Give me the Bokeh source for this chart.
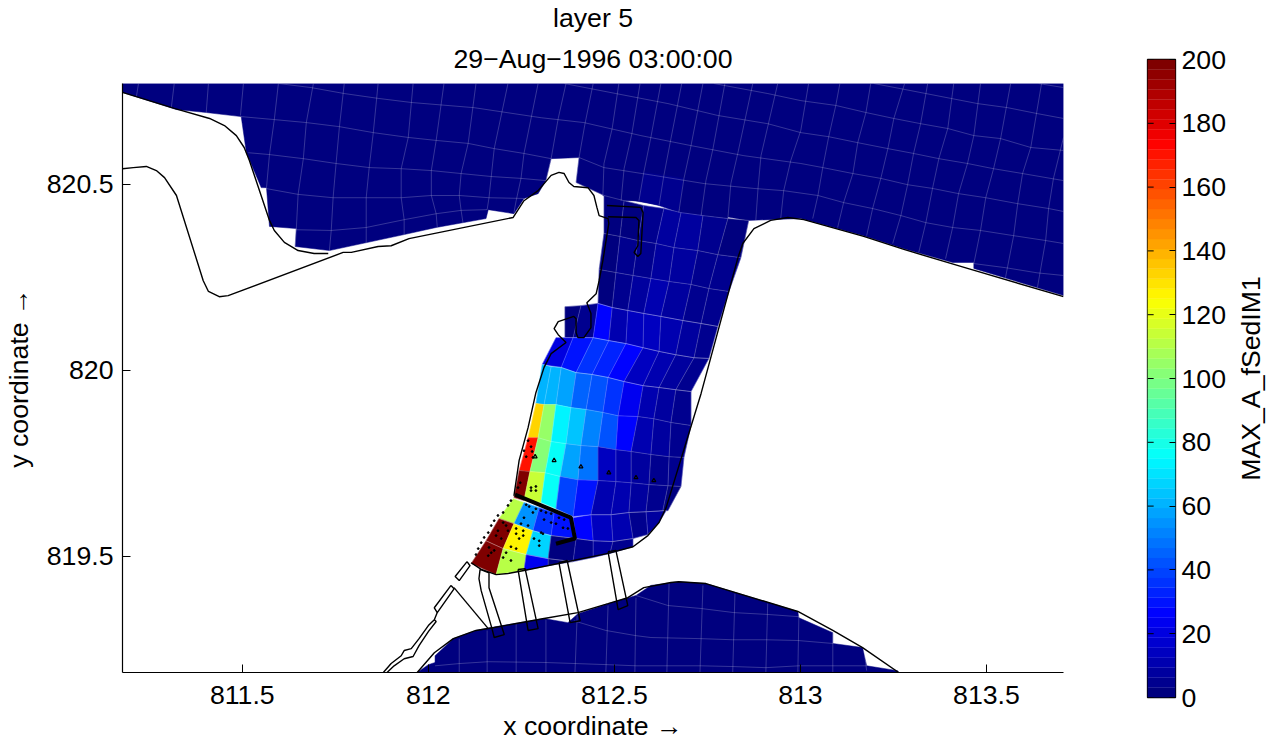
from bokeh.plotting import figure
from bokeh.layouts import row
from bokeh.models import (ColumnDataSource, FixedTicker, LinearColorMapper, Title)
from bokeh.embed import file_html
from bokeh.resources import INLINE
import numpy as np

TITLE = ["layer 5", "29\u2212Aug\u22121996 03:00:00"]
X_LABEL = "x coordinate \u2192"
Y_LABEL = "y coordinate \u2192"
CB_LABEL = "MAX_A_fSedIM1"
X_TICKS = [811.5, 812, 812.5, 813, 813.5]
X_TICK_LABELS = ["811.5", "812", "812.5", "813", "813.5"]
Y_TICKS = [819.5, 820, 820.5]
Y_TICK_LABELS = ["819.5", "820", "820.5"]
CB_TICKS = [0, 20, 40, 60, 80, 100, 120, 140, 160, 180, 200]
X_LIM = (811.178, 813.707)
Y_LIM = (819.188, 820.771)

# wet areas at value ~0
TOP_X = [811.178, 813.707, 813.707, 813.466, 813.466, 813.409, 813.278, 813.170, 813.001, 812.859, 812.472, 812.397, 812.405, 812.330, 812.316, 812.295, 812.257, 812.230, 812.161, 812.155, 812.021, 811.935, 811.734, 811.642, 811.645, 811.573, 811.565, 811.551, 811.511, 811.497, 811.403, 811.323, 811.178]
TOP_Y = [820.771, 820.771, 820.201, 820.274, 820.290, 820.290, 820.327, 820.362, 820.408, 820.403, 820.470, 820.505, 820.572, 820.569, 820.510, 820.475, 820.462, 820.421, 820.432, 820.408, 820.384, 820.365, 820.322, 820.333, 820.381, 820.387, 820.491, 820.491, 820.585, 820.682, 820.693, 820.701, 820.747]
LOW_X = [811.970, 812.000, 812.018, 812.018, 812.067, 812.128, 812.169, 812.311, 812.375, 812.402, 812.483, 812.558, 812.598, 812.673, 812.746, 812.993, 812.996, 813.087, 813.087, 813.167, 813.178, 813.261, 813.264]
LOW_Y = [819.188, 819.209, 819.215, 819.233, 819.279, 819.301, 819.309, 819.333, 819.322, 819.346, 819.373, 819.395, 819.422, 819.432, 819.427, 819.352, 819.335, 819.295, 819.266, 819.255, 819.206, 819.193, 819.188]

# block T: slightly raised cells in the basin
T_X = [[812.494, 812.547, 812.598, 812.652, 812.706, 812.765, 812.832],
       [812.472, 812.526, 812.579, 812.633, 812.687, 812.746, 812.813],
       [812.469, 812.518, 812.566, 812.620, 812.673, 812.733, 812.805]]
T_Y = [[820.650, 820.636, 820.626, 820.623, 820.604, 820.596, 820.585],
       [820.556, 820.542, 820.532, 820.524, 820.516, 820.510, 820.502],
       [820.470, 820.456, 820.456, 820.443, 820.424, 820.416, 820.408]]
T_V = [[1, 2, 3, 2, 1, 1], [2, 3, 4, 4, 2, 1]]

# block A: upper channel
A_X = [[812.472, 812.526, 812.579, 812.633, 812.679, 812.738, 812.805, 812.861],
       [812.472, 812.515, 812.563, 812.612, 812.660, 812.724, 812.778, 812.840],
       [812.459, 812.504, 812.550, 812.598, 812.647, 812.706, 812.754, 812.808],
       [812.456, 812.494, 812.536, 812.579, 812.625, 812.684, 812.733, 812.778]]
A_Y = [[820.470, 820.456, 820.443, 820.435, 820.424, 820.416, 820.408, 820.403],
       [820.368, 820.360, 820.349, 820.341, 820.330, 820.322, 820.311, 820.303],
       [820.271, 820.263, 820.255, 820.247, 820.239, 820.231, 820.220, 820.212],
       [820.180, 820.169, 820.161, 820.153, 820.145, 820.134, 820.126, 820.118]]
A_V = [[2, 3, 5, 7, 7, 5, 3], [3, 4, 6, 8, 8, 6, 4], [2, 6, 9, 10, 8, 6, 5]]

# block B: middle channel
R5_X = [812.389, 812.443, 812.485, 812.531, 812.577, 812.620, 812.665, 812.714, 812.754]
R5_Y = [820.088, 820.088, 820.080, 820.072, 820.061, 820.051, 820.042, 820.034, 820.032]
B1_X = [[812.367, 812.410, 812.456, 812.494, 812.536, 812.579, 812.625, 812.684, 812.733, 812.778],
        [812.367] + R5_X]
B1_Y = [[820.171, 820.174, 820.180, 820.169, 820.161, 820.153, 820.145, 820.134, 820.126, 820.118],
        [820.088] + R5_Y]
B1_V = [[1, 4, 25, 12, 14, 13, 10, 8, 6]]
B2_X = [[812.343] + R5_X,
        [812.306, 812.357, 812.397, 812.440, 812.483, 812.526, 812.577, 812.620, 812.665, 812.706]]
B2_Y = [[820.088] + R5_Y,
        [820.016, 820.008, 819.994, 819.989, 819.981, 819.970, 819.959, 819.954, 819.948, 819.943]]
B2_V = [[20, 30, 36, 32, 25, 14, 10, 8, 5]]

# block C: lower channel
C_X = [[812.306, 812.330, 812.357, 812.397, 812.440, 812.483, 812.526, 812.577, 812.620, 812.665, 812.706],
       [812.289, 812.311, 812.343, 812.383, 812.424, 812.469, 812.510, 812.563, 812.606, 812.652, 812.706],
       [812.268, 812.295, 812.330, 812.370, 812.410, 812.456, 812.504, 812.545, 812.598, 812.647, 812.687],
       [812.244, 812.273, 812.314, 812.354, 812.402, 812.456, 812.504, 812.545, 812.593, 812.644, 812.679],
       [812.230, 812.257, 812.303, 812.343, 812.389, 812.437, 812.491, 812.539, 812.585, 812.630, 812.644]]
C_Y = [[820.016, 820.010, 820.008, 819.994, 819.989, 819.981, 819.970, 819.959, 819.954, 819.948, 819.943],
       [819.911, 819.908, 819.908, 819.900, 819.895, 819.887, 819.878, 819.876, 819.870, 819.860, 819.852],
       [819.819, 819.819, 819.809, 819.803, 819.798, 819.795, 819.787, 819.782, 819.774, 819.768, 819.766],
       [819.731, 819.728, 819.725, 819.715, 819.706, 819.704, 819.701, 819.698, 819.693, 819.690, 819.688],
       [819.658, 819.650, 819.645, 819.628, 819.607, 819.612, 819.612, 819.618, 819.620, 819.623, 819.623]]
C_V = [[60, 60, 58, 46, 43, 37, 22, 11, 8, 5],
       [132, 105, 73, 64, 50, 42, 26, 10, 7, 4],
       [170, 100, 75, 58, 48, 15, 10, 8, 5, 4],
       [198, 114, 76, 40, 30, 12, 10, 8, 5, 3]]

# block D: fan of cells at the harbour mouth
L0_X = [812.228, 812.257, 812.298, 812.338, 812.389, 812.437, 812.491, 812.539, 812.585, 812.639]
L0_Y = [819.655, 819.645, 819.631, 819.618, 819.604, 819.612, 819.612, 819.618, 819.620, 819.623]
L1_X = [812.190, 812.230, 812.281, 812.330, 812.397, 812.443, 812.496, 812.550, 812.590, 812.620]
L1_Y = [819.602, 819.588, 819.569, 819.556, 819.548, 819.542, 819.540, 819.548, 819.559, 819.591]
L2_X = [812.155, 812.201, 812.263, 812.322, 812.389, 812.443, 812.488, 812.550]
L2_Y = [819.542, 819.521, 819.505, 819.494, 819.486, 819.497, 819.508, 819.526]
L3_X = [812.115, 812.182, 812.257, 812.322, 812.389]
L3_Y = [819.481, 819.451, 819.462, 819.475, 819.486]
D1_V = [[112, 55, 35, 30, 25, 13, 10, 6, 8]]
D2_V = [[198, 125, 68, 3, 6, 8, 5]]
D3_V = [[198, 110, 22, 3]]

# grid lines of the basins
GRID_LINES = [
    ([813.640, 813.707], [820.771, 820.760]),
    ([813.197, 813.270, 813.337, 813.404, 813.476, 813.557, 813.637, 813.707], [820.771, 820.757, 820.744, 820.731, 820.717, 820.706, 820.690, 820.677]),
    ([812.767, 812.912, 813.001, 813.095, 813.176, 813.251, 813.323, 813.396, 813.466, 813.538, 813.619, 813.707], [820.771, 820.744, 820.725, 820.712, 820.693, 820.677, 820.663, 820.650, 820.631, 820.623, 820.599, 820.591]),
    ([812.365, 812.504, 812.644, 812.778, 812.912, 813.001, 813.076, 813.154, 813.235, 813.304, 813.372, 813.449, 813.519, 813.597, 813.707], [820.771, 820.744, 820.717, 820.685, 820.663, 820.639, 820.628, 820.612, 820.596, 820.583, 820.569, 820.556, 820.542, 820.529, 820.510]),
    ([811.597, 811.685, 811.774, 811.865, 811.954, 812.123, 812.303, 812.418, 812.571, 812.706, 812.848, 813.001, 813.060, 813.141, 813.216, 813.288, 813.355, 813.425, 813.498, 813.584, 813.667, 813.707], [820.771, 820.760, 820.744, 820.731, 820.720, 820.706, 820.679, 820.666, 820.631, 820.604, 820.577, 820.556, 820.545, 820.529, 820.516, 820.499, 820.489, 820.475, 820.464, 820.448, 820.435, 820.427]),
    ([811.497, 811.586, 811.672, 811.761, 811.852, 811.946, 812.021, 812.107, 812.177, 812.257, 812.330], [820.682, 820.674, 820.666, 820.655, 820.639, 820.626, 820.618, 820.610, 820.596, 820.583, 820.569]),
    ([812.405, 812.472, 812.606, 812.741, 812.875, 812.955, 813.047, 813.116, 813.194, 813.270, 813.337, 813.409, 813.484, 813.573, 813.659, 813.707], [820.572, 820.545, 820.524, 820.502, 820.489, 820.483, 820.470, 820.451, 820.435, 820.416, 820.397, 820.384, 820.376, 820.362, 820.349, 820.341]),
    ([811.516, 811.573, 811.664, 811.752, 811.841, 811.927, 812.008, 812.088, 812.169, 812.249, 812.316, 812.397, 812.472], [820.585, 820.580, 820.569, 820.556, 820.545, 820.542, 820.537, 820.529, 820.521, 820.516, 820.510, 820.505, 820.470]),
    ([811.551, 811.650, 811.744, 811.833, 811.927, 812.008, 812.083, 812.163, 812.257], [820.491, 820.473, 820.464, 820.464, 820.464, 820.470, 820.470, 820.464, 820.462]),
    ([811.645, 811.739, 811.833, 811.935, 812.021, 812.088, 812.158], [820.378, 820.376, 820.384, 820.405, 820.421, 820.430, 820.432]),
    ([813.466, 813.551, 813.637, 813.707], [820.287, 820.276, 820.262, 820.255]),
    ([811.221, 811.215], [820.771, 820.733]),
    ([811.317, 811.309], [820.771, 820.704]),
    ([811.409, 811.403], [820.771, 820.693]),
    ([811.503, 811.495], [820.771, 820.685]),
    ([811.597, 811.586, 811.573, 811.565], [820.771, 820.674, 820.580, 820.491]),
    ([811.691, 811.672, 811.664, 811.650, 811.645, 811.642], [820.771, 820.666, 820.569, 820.473, 820.378, 820.333]),
    ([811.774, 811.761, 811.752, 811.744, 811.739, 811.734], [820.771, 820.655, 820.556, 820.464, 820.376, 820.322]),
    ([811.865, 811.852, 811.841, 811.833, 811.833, 811.833], [820.771, 820.639, 820.545, 820.464, 820.384, 820.344]),
    ([811.959, 811.946, 811.927, 811.927, 811.935, 811.935], [820.771, 820.626, 820.542, 820.464, 820.405, 820.365]),
    ([812.042, 812.021, 812.008, 812.008, 812.021, 812.024], [820.771, 820.618, 820.537, 820.470, 820.421, 820.384]),
    ([812.128, 812.107, 812.088, 812.083, 812.088, 812.093], [820.771, 820.610, 820.529, 820.470, 820.430, 820.397]),
    ([812.214, 812.177, 812.169, 812.163, 812.158], [820.771, 820.596, 820.521, 820.464, 820.432]),
    ([812.295, 812.257, 812.249, 812.236, 812.230], [820.771, 820.583, 820.516, 820.456, 820.424]),
    ([812.370, 812.349, 812.330, 812.316], [820.771, 820.677, 820.569, 820.510]),
    ([812.443, 812.421, 812.405, 812.397], [820.771, 820.663, 820.572, 820.505]),
    ([812.512, 812.494, 812.472, 812.469], [820.771, 820.650, 820.556, 820.470]),
    ([812.569, 812.547, 812.526, 812.518], [820.771, 820.636, 820.542, 820.456]),
    ([812.625, 812.598, 812.579, 812.566], [820.771, 820.626, 820.532, 820.456]),
    ([812.681, 812.652, 812.633, 812.620], [820.771, 820.623, 820.524, 820.443]),
    ([812.738, 812.706, 812.687, 812.673], [820.771, 820.604, 820.516, 820.424]),
    ([812.797, 812.765, 812.746, 812.733], [820.771, 820.596, 820.510, 820.416]),
    ([812.872, 812.832, 812.813, 812.805], [820.771, 820.585, 820.502, 820.408]),
    ([812.939, 812.894, 812.886, 812.880], [820.771, 820.577, 820.489, 820.403]),
    ([813.022, 813.001, 812.974, 812.955, 812.947], [820.771, 820.645, 820.564, 820.483, 820.408]),
    ([813.106, 813.095, 813.076, 813.060, 813.047, 813.033], [820.771, 820.712, 820.628, 820.545, 820.470, 820.408]),
    ([813.189, 813.176, 813.154, 813.141, 813.116, 813.100], [820.771, 820.693, 820.612, 820.529, 820.451, 820.384]),
    ([813.280, 813.251, 813.235, 813.216, 813.194, 813.178], [820.771, 820.677, 820.596, 820.516, 820.435, 820.362]),
    ([813.342, 813.323, 813.304, 813.288, 813.270, 813.248], [820.771, 820.663, 820.583, 820.499, 820.416, 820.341]),
    ([813.412, 813.396, 813.372, 813.355, 813.337, 813.318], [820.771, 820.650, 820.569, 820.489, 820.397, 820.317]),
    ([813.484, 813.466, 813.449, 813.425, 813.409, 813.390], [820.771, 820.631, 820.556, 820.475, 820.384, 820.300]),
    ([813.565, 813.538, 813.519, 813.498, 813.484, 813.466], [820.771, 820.623, 820.542, 820.464, 820.376, 820.287]),
    ([813.648, 813.619, 813.597, 813.584, 813.573, 813.551], [820.771, 820.599, 820.529, 820.448, 820.362, 820.249]),
    ([813.707, 813.680, 813.667, 813.659, 813.637], [820.626, 820.516, 820.435, 820.349, 820.223]),
    ([812.558, 812.644, 812.733, 812.821, 812.912, 812.996], [819.395, 819.368, 819.360, 819.349, 819.344, 819.338]),
    ([812.391, 812.477, 812.558, 812.598, 812.733, 812.818, 812.907, 812.993, 813.087], [819.327, 819.301, 819.287, 819.282, 819.279, 819.276, 819.276, 819.274, 819.266]),
    ([812.018, 812.083, 812.161, 812.311, 812.397, 812.483, 812.558, 812.733, 812.818, 812.907, 812.996, 813.087, 813.178], [819.206, 819.212, 819.217, 819.215, 819.212, 819.209, 819.206, 819.206, 819.204, 819.201, 819.206, 819.206, 819.206]),
    ([812.083, 812.083], [819.279, 819.188]),
    ([812.158, 812.158], [819.301, 819.188]),
    ([812.236, 812.236], [819.319, 819.188]),
    ([812.316, 812.316], [819.330, 819.188]),
    ([812.400, 812.394], [819.341, 819.188]),
    ([812.483, 812.477], [819.368, 819.188]),
    ([812.558, 812.555], [819.389, 819.188]),
    ([812.647, 812.641], [819.430, 819.188]),
    ([812.738, 812.730], [819.422, 819.188]),
    ([812.824, 812.818], [819.400, 819.188]),
    ([812.912, 812.907], [819.373, 819.188]),
    ([812.996, 812.993], [819.349, 819.188]),
    ([813.087, 813.087], [819.295, 819.188]),
    ([813.170, 813.178], [819.255, 819.193]),
]

# shoreline and structures
COAST_LINES = [
    ([811.178, 811.317, 811.412, 811.452, 811.484, 811.505, 811.519, 811.573, 811.586, 811.613, 811.650, 811.693, 811.731], [820.747, 820.704, 820.677, 820.658, 820.631, 820.599, 820.564, 820.403, 820.376, 820.344, 820.322, 820.314, 820.314]),
    ([811.178, 811.207, 811.242, 811.269, 811.291, 811.323, 811.395, 811.409, 811.438, 811.462, 811.771, 811.793, 811.865, 811.900, 811.948, 812.228, 812.257, 812.295, 812.330, 812.351, 812.365, 812.378, 812.391, 812.429, 812.445, 812.453, 812.459, 812.483, 812.485, 812.469, 812.459, 812.451, 812.426, 812.437, 812.437, 812.418, 812.402, 812.397, 812.397, 812.391, 812.349, 812.338, 812.349, 812.370, 812.330, 812.311, 812.289, 812.268, 812.244, 812.230],
     [820.542, 820.545, 820.548, 820.537, 820.518, 820.470, 820.241, 820.212, 820.198, 820.201, 820.317, 820.317, 820.333, 820.335, 820.354, 820.411, 820.456, 820.483, 820.524, 820.532, 820.529, 820.505, 820.494, 820.491, 820.470, 820.438, 820.416, 820.408, 820.395, 820.295, 820.241, 820.206, 820.182, 820.153, 820.115, 820.088, 820.088, 820.102, 820.139, 820.145, 820.131, 820.112, 820.096, 820.075, 820.045, 820.008, 819.940, 819.846, 819.758, 819.663]),
    ([812.115, 812.142, 812.182, 812.214, 812.257, 812.483, 812.550, 812.590, 812.620, 812.639, 812.733, 812.832, 812.845, 812.875, 812.920, 812.966, 813.009, 813.170, 813.278, 813.449, 813.707], [819.483, 819.465, 819.451, 819.454, 819.462, 819.508, 819.526, 819.556, 819.591, 819.631, 819.938, 820.303, 820.341, 820.381, 820.403, 820.411, 820.405, 820.360, 820.325, 820.274, 820.198]),
    ([811.970, 812.016, 812.067, 812.128, 812.177, 812.311, 812.402, 812.483, 812.536, 812.579, 812.652, 812.673, 812.746, 812.993, 813.087, 813.167, 813.264], [819.188, 819.241, 819.279, 819.301, 819.309, 819.333, 819.349, 819.373, 819.389, 819.416, 819.430, 819.432, 819.427, 819.352, 819.301, 819.255, 819.188]),
    ([812.104, 812.072, 812.083, 812.112, 812.104], [819.486, 819.446, 819.435, 819.475, 819.486]),
    ([812.061, 812.016, 812.024, 812.069, 812.061], [819.422, 819.362, 819.349, 819.413, 819.422]),
    ([812.024, 812.016, 812.000, 811.975, 811.954, 811.935, 811.927, 811.900, 811.879], [819.349, 819.330, 819.314, 819.279, 819.252, 819.247, 819.233, 819.212, 819.188]),
    ([812.016, 812.021, 812.000, 811.975, 811.959, 811.935, 811.908, 811.889], [819.330, 819.325, 819.298, 819.260, 819.231, 819.225, 819.206, 819.188]),
    ([812.069, 812.161], [819.416, 819.306]),
    ([812.139, 812.163, 812.163, 812.204, 812.177, 812.171, 812.142, 812.136, 812.139], [819.465, 819.456, 819.416, 819.290, 819.282, 819.306, 819.408, 819.440, 819.465]),
    ([812.241, 812.260, 812.295, 812.268, 812.241], [819.465, 819.467, 819.306, 819.301, 819.465]),
    ([812.351, 812.373, 812.408, 812.381, 812.351], [819.483, 819.489, 819.327, 819.322, 819.483]),
    ([812.483, 812.504, 812.536, 812.510, 812.483], [819.513, 819.516, 819.368, 819.357, 819.513]),
    ([812.480, 812.571, 812.577, 812.571, 812.563, 812.553, 812.563, 812.566, 812.558, 812.483], [820.443, 820.438, 820.424, 820.314, 820.306, 820.317, 820.335, 820.403, 820.411, 820.413]),
]
DAM_X = [812.233, 812.383, 812.394, 812.343]
DAM_Y = [819.666, 819.604, 819.548, 819.534]

TRI_X = [812.287, 812.338, 812.410, 812.485, 812.558, 812.606]
TRI_Y = [819.768, 819.758, 819.741, 819.725, 819.712, 819.704]
DOT_X = [812.201, 812.187, 812.177, 812.169, 812.161, 812.150, 812.142, 812.134, 812.128, 812.214, 812.222,
         812.201, 812.209, 812.187, 812.214, 812.182, 812.196, 812.163, 812.169, 812.161, 812.177,
         812.236, 812.255, 812.236, 812.255, 812.222, 812.236, 812.244,
         812.263, 812.271, 812.289, 812.281, 812.257, 812.249, 812.268, 812.303,
         812.316, 812.330, 812.311, 812.330, 812.303, 812.308, 812.351, 812.365, 812.343, 812.362, 812.375,
         812.298, 812.298, 812.284, 812.201, 812.222, 812.209,
         812.276, 812.289, 812.276, 812.289,
         812.268, 812.276, 812.257, 812.279, 812.263, 812.281, 812.247, 812.241]
DOT_Y = [819.618, 819.610, 819.596, 819.583, 819.564, 819.551, 819.537, 819.521, 819.505, 819.637, 819.650,
         819.591, 819.583, 819.569, 819.569, 819.556, 819.548, 819.524, 819.510, 819.502, 819.516,
         819.575, 819.569, 819.561, 819.556, 819.526, 819.521, 819.548,
         819.639, 819.634, 819.628, 819.618, 819.604, 819.588, 819.583, 819.623,
         819.618, 819.615, 819.599, 819.591, 819.564, 819.561, 819.604, 819.599, 819.588, 819.577, 819.575,
         819.542, 819.529, 819.548, 819.497, 819.489, 819.510,
         819.685, 819.688, 819.677, 819.677,
         819.811, 819.795, 819.784, 819.782, 819.768, 819.766, 819.698, 819.685]

FONT = "Liberation Sans"
TEXT_PX = "26.7px"
GRID_COLOR = "#ffffff"
GRID_ALPHA = 0.3


def jet(n):
    t = np.linspace(0, 1, n)
    r = np.clip(1.5 - np.abs(4 * t - 3), 0, 1)
    g = np.clip(1.5 - np.abs(4 * t - 2), 0, 1)
    b = np.clip(1.5 - np.abs(4 * t - 1), 0, 1)
    return ["#%02x%02x%02x" % (int(a * 255), int(c * 255), int(d * 255)) for a, c, d in zip(r, g, b)]


PALETTE = jet(64)
mapper = LinearColorMapper(palette=PALETTE, low=0, high=200)


def cells(xrows, yrows, vals):
    xs, ys, vs = [], [], []
    for j, line in enumerate(vals):
        for i, v in enumerate(line):
            xs.append([xrows[j][i], xrows[j][i + 1], xrows[j + 1][i + 1], xrows[j + 1][i]])
            ys.append([yrows[j][i], yrows[j][i + 1], yrows[j + 1][i + 1], yrows[j + 1][i]])
            vs.append(v)
    return xs, ys, vs


blocks = [
    (T_X, T_Y, T_V), (A_X, A_Y, A_V), (B1_X, B1_Y, B1_V), (B2_X, B2_Y, B2_V), (C_X, C_Y, C_V),
    ([L0_X, L1_X], [L0_Y, L1_Y], D1_V),
    ([L1_X[:8], L2_X], [L1_Y[:8], L2_Y], D2_V),
    ([L2_X[:5], L3_X], [L2_Y[:5], L3_Y], D3_V),
]
cx, cy, cv = [TOP_X, LOW_X], [TOP_Y, LOW_Y], [0, 0]
for bx, by, bv in blocks:
    a, b, c = cells(bx, by, bv)
    cx += a
    cy += b
    cv += c
cell_src = ColumnDataSource(dict(xs=cx, ys=cy, v=cv))

H = 743
p = figure(width=1140, height=H, x_range=X_LIM, y_range=Y_LIM, output_backend="svg", toolbar_location=None,
           min_border_left=121, min_border_right=77, min_border_top=83, min_border_bottom=H - 672,
           frame_align=False, outline_line_color=None, background_fill_color="white", border_fill_color="white")
p.grid.visible = False
p.patches("xs", "ys", source=cell_src, fill_color={"field": "v", "transform": mapper},
          line_color={"field": "v", "transform": mapper}, line_width=0.5)
grid_x = [g[0] for g in GRID_LINES]
grid_y = [g[1] for g in GRID_LINES]
for bx, by, bv in blocks[1:]:
    grid_x += [r for r in bx]
    grid_y += [r for r in by]
    for i in range(len(bx[0])):
        grid_x.append([r[i] for r in bx])
        grid_y.append([r[i] for r in by])
p.multi_line(grid_x, grid_y, line_color=GRID_COLOR, line_alpha=GRID_ALPHA, line_width=0.7)
p.multi_line([c[0] for c in COAST_LINES], [c[1] for c in COAST_LINES], line_color="black", line_width=1.4)
p.line(DAM_X, DAM_Y, line_color="black", line_width=4)
p.scatter(DOT_X, DOT_Y, size=1.8, color="black")
p.scatter(TRI_X, TRI_Y, marker="triangle", size=4, fill_color=None, line_color="black", line_width=1.2)

p.xaxis.ticker = FixedTicker(ticks=X_TICKS)
p.xaxis.major_label_overrides = dict(zip(X_TICKS, X_TICK_LABELS))
p.yaxis.ticker = FixedTicker(ticks=Y_TICKS)
p.yaxis.major_label_overrides = dict(zip(Y_TICKS, Y_TICK_LABELS))
p.xaxis.axis_label = X_LABEL
p.yaxis.axis_label = Y_LABEL
for ax in (p.xaxis[0], p.yaxis[0]):
    ax.minor_tick_line_color = None
    ax.major_tick_in = 8
    ax.major_tick_out = 0
    ax.major_tick_line_width = 1
    ax.axis_line_width = 1.2
    ax.major_label_text_font = FONT
    ax.major_label_text_font_size = TEXT_PX
    ax.major_label_text_color = "black"
    ax.axis_label_text_font = FONT
    ax.axis_label_text_font_size = TEXT_PX
    ax.axis_label_text_font_style = "normal"
    ax.axis_label_text_color = "black"
p.xaxis.major_label_standoff = 13
p.yaxis.major_label_standoff = 9
p.xaxis.axis_label_standoff = 4
p.yaxis.axis_label_standoff = 10
p.add_layout(Title(text=TITLE[1], align="center", text_font=FONT, text_font_size=TEXT_PX, text_font_style="normal", text_color="black", standoff=19), "above")
p.add_layout(Title(text=TITLE[0], align="center", text_font=FONT, text_font_size=TEXT_PX, text_font_style="normal", text_color="black", standoff=0), "above")

# colour bar
levels = np.linspace(0, 200, len(PALETTE) + 1)
cb_src = ColumnDataSource(dict(bottom=levels[:-1], top=levels[1:], mid=(levels[:-1] + levels[1:]) / 2))
cb = figure(width=92, height=H, x_range=(0, 1), y_range=(0, 200), output_backend="svg", toolbar_location=None,
            x_axis_location=None, y_axis_location="right", min_border_left=7, min_border_right=57,
            min_border_top=59, min_border_bottom=H - 697, frame_align=False,
            outline_line_color="black", outline_line_width=1.3,
            background_fill_color="white", border_fill_color="white")
cb.grid.visible = False
cb.quad(left=0, right=1, bottom="bottom", top="top", source=cb_src,
        fill_color={"field": "mid", "transform": mapper}, line_color={"field": "mid", "transform": mapper}, line_width=0.3)
cb.segment(x0=[0] * len(CB_TICKS), x1=[0.22] * len(CB_TICKS), y0=CB_TICKS, y1=CB_TICKS, line_color="black", line_width=1)
ra = cb.yaxis[0]
ra.ticker = FixedTicker(ticks=CB_TICKS)
ra.minor_tick_line_color = None
ra.major_tick_in = 6
ra.major_tick_out = 0
ra.axis_line_color = None
ra.major_label_text_font = FONT
ra.major_label_text_font_size = TEXT_PX
ra.major_label_text_color = "black"
ra.major_label_standoff = 6

# colour bar label: the left axis of a narrow strip beside the bar, so it reads upwards
strip = figure(width=41, height=H, x_range=(0, 1), y_range=(0, 200), output_backend="svg", toolbar_location=None,
               x_axis_location=None, min_border_left=34, min_border_right=0,
               min_border_top=59, min_border_bottom=H - 697, frame_align=False,
               outline_line_color=None, background_fill_color="white", border_fill_color="white")
strip.grid.visible = False
sa = strip.yaxis[0]
sa.ticker = FixedTicker(ticks=[])
sa.axis_line_color = None
sa.minor_tick_line_color = None
sa.major_tick_line_color = None
sa.axis_label = CB_LABEL
sa.axis_label_text_font = FONT
sa.axis_label_text_font_size = TEXT_PX
sa.axis_label_text_font_style = "normal"
sa.axis_label_text_color = "black"
sa.axis_label_standoff = 2

page = row(p, cb, strip, spacing=0)
open("out.html", "w").write(file_html(page, INLINE))
